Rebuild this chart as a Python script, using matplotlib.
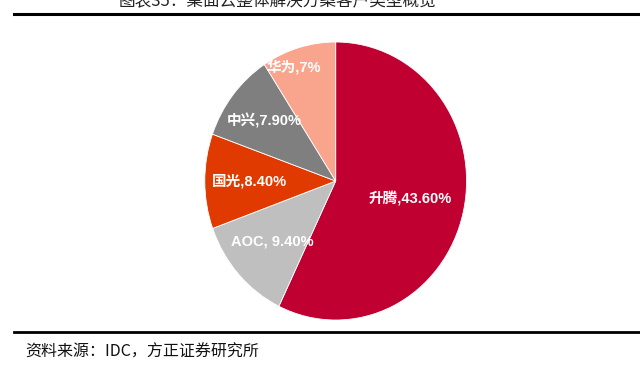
import numpy as np
import matplotlib
matplotlib.use("Agg")
import matplotlib.pyplot as plt
from matplotlib.lines import Line2D

plt.rcParams['font.family'] = ['Noto Sans CJK SC', 'DejaVu Sans']

categories = ['升腾', 'AOC', '国光', '中兴', '华为']
values = [43.60, 9.40, 8.40, 7.90, 7.0]
value_labels = ['43.60%', '9.40%', '8.40%', '7.90%', '7%']
seps = [',', ', ', ',', ',', ',']
colors = ['#BF0030', '#BFBFBF', '#E03A00', '#7F7F7F', '#F9A58E']
label_dist = [0.58, 0.65, 0.66, 0.70, 0.88]
label_shift = [0, 0, 0, 0, 5]  # degrees

fig = plt.figure(figsize=(6.4, 3.67), dpi=100)
ax = fig.add_axes([0.320, 0.128, 0.409, 0.7575])
wedges, _ = ax.pie(values, colors=colors, startangle=90, counterclock=False,
                   wedgeprops=dict(edgecolor='white', linewidth=0.6))
ax.set_aspect('auto')
ax.set_xlim(-1, 1)
ax.set_ylim(-1, 1)
for w, cat, sep, vl, d, s in zip(wedges, categories, seps, value_labels, label_dist, label_shift):
    mid = np.deg2rad((w.theta1 + w.theta2) / 2 + s)
    ax.text(d * np.cos(mid), d * np.sin(mid), f'{cat}{sep}{vl}', color='white',
            fontsize=10.5, fontweight='bold', ha='center', va='center',
            family=['Liberation Sans', 'Noto Sans CJK SC'])

# title (cropped at the top, as in the source image)
fig.text(0.433, 0.995, '图表35：桌面云整体解决方案客户类型概览', fontsize=12,
         ha='center', va='center', color='#222222')
# rules
fig.add_artist(Line2D([0.022, 1.0], [1 - 14 / 367, 1 - 14 / 367], color='black', linewidth=2.2))
fig.add_artist(Line2D([0.022, 1.0], [1 - 332 / 367, 1 - 332 / 367], color='black', linewidth=2.0))
fig.text(0.039, 1 - 352 / 367, '资料来源：IDC，方正证券研究所', fontsize=11.5,
         ha='left', va='center', color='#111111')

fig.savefig('out.png', dpi=100)
